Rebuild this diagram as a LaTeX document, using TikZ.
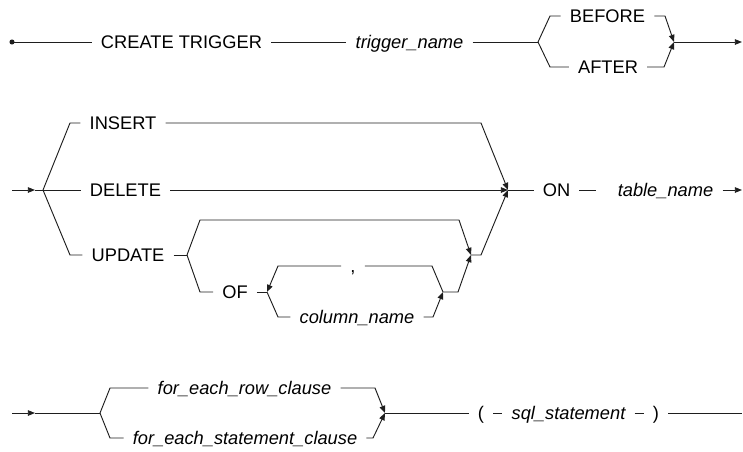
\documentclass[tikz,border=0pt]{standalone}
\usepackage{fontspec}
\setmainfont{Liberation Sans}
\usetikzlibrary{arrows.meta}
\definecolor{ln}{RGB}{30,30,30}
\tikzset{
  kw/.style={inner xsep=6.75pt, inner ysep=0pt, text height=9.8pt, text depth=0pt,
             font=\fontsize{13.7}{16}\selectfont, text=black},
  ident/.style={kw, font=\fontsize{13.7}{16}\selectfont\itshape},
  rail/.style={draw=ln, line width=0.7pt, line join=miter},
  arr/.style={rail, -{Triangle[length=5.4pt,width=4.2pt]}},
}
\begin{document}
\begin{tikzpicture}[x=0.75pt,y=-0.75pt]
\useasboundingbox (0,0) rectangle (743,451);
% ---------- Row 1 ----------
\coordinate (s1) at (12,42);
\coordinate (j1a) at (538,42);
\coordinate (j1b) at (674,42);
\coordinate (e1) at (742,42);
\fill[ln] (s1) circle (1.9pt);
\node[kw] (create) at (181.5,42) {CREATE TRIGGER};
\node[ident] (trig) at (409.5,42) {trigger\_name};
\node[kw] (before) at (607.5,16) {BEFORE};
\node[kw] (after) at (608,67) {AFTER};
\draw[rail] (s1) -- (create);
\draw[rail] (create) -- (trig);
\draw[rail] (trig) -- (j1a);
\draw[rail] (j1a) -- (550,16) -- (before);
\draw[rail] (j1a) -- (550,67) -- (after);
\draw[arr] (before) -- (665,16) -- (j1b);
\draw[arr] (after) -- (664,67) -- (j1b);
\draw[arr] (j1b) -- (e1);
% ---------- Row 2 ----------
\coordinate (s2) at (12,190);
\coordinate (a2) at (35,190);
\coordinate (j2a) at (43,190);
\coordinate (j2b) at (508,190);
\coordinate (j2c) at (187,255);
\coordinate (j2d) at (471,255);
\coordinate (j2e) at (267,292);
\coordinate (j2f) at (443,292);
\coordinate (e2) at (742,190);
\node[kw] (insert) at (123,123) {INSERT};
\node[kw] (delete) at (125.5,190) {DELETE};
\node[kw] (update) at (128,255) {UPDATE};
\node[kw] (of) at (235,292) {OF};
\node[kw] (comma) at (353,266) {,};
\node[ident] (col) at (357,317) {column\_name};
\node[kw] (on) at (556.5,190) {ON};
\node[ident] (tbl) at (665.5,190) {table\_name};
\draw[arr] (s2) -- (a2);
\draw[rail] (a2) -- (j2a);
\draw[rail] (j2a) -- (70,123) -- (insert);
\draw[arr] (insert) -- (481,123) -- (j2b);
\draw[rail] (j2a) -- (delete);
\draw[arr] (delete) -- (j2b);
\draw[rail] (j2a) -- (70,255) -- (update);
\draw[rail] (update) -- (j2c);
\draw[arr] (j2c) -- (200,220) -- (459,220) -- (j2d);
\draw[rail] (j2c) -- (200,292) -- (of);
\draw[rail] (of) -- (j2e);
\draw[rail] (j2e) -- (278,317) -- (col);
\draw[arr] (col) -- (433,317) -- (j2f);
\draw[rail] (j2f) -- (432,266) -- (comma);
\draw[arr] (comma) -- (278,266) -- (j2e);
\draw[arr] (j2f) -- (458,292) -- (j2d);
\draw[arr] (j2d) -- (481,255) -- (j2b);
\draw[rail] (j2b) -- (on);
\draw[rail, shorten >=9.75pt] (on) -- (tbl);
\draw[arr] (tbl) -- (e2);
% ---------- Row 3 ----------
\coordinate (s3) at (12,413);
\coordinate (a3) at (35,413);
\coordinate (j3a) at (100,413);
\coordinate (j3b) at (385,413);
\coordinate (e3) at (742,413);
\node[ident] (row) at (244.5,388) {for\_each\_row\_clause};
\node[ident] (stmt) at (245,438) {for\_each\_statement\_clause};
\node[kw] (lp) at (481,413) {(};
\node[ident] (sql) at (568.5,413) {sql\_statement};
\node[kw] (rp) at (656,413) {)};
\draw[arr] (s3) -- (a3);
\draw[rail] (a3) -- (j3a);
\draw[rail] (j3a) -- (110,388) -- (row);
\draw[arr] (row) -- (375,388) -- (j3b);
\draw[rail] (j3a) -- (110,438) -- (stmt);
\draw[arr] (stmt) -- (373,438) -- (j3b);
\draw[rail] (j3b) -- (lp);
\draw[rail] (lp) -- (sql);
\draw[rail] (sql) -- (rp);
\draw[rail] (rp) -- (e3);
\end{tikzpicture}
\end{document}
